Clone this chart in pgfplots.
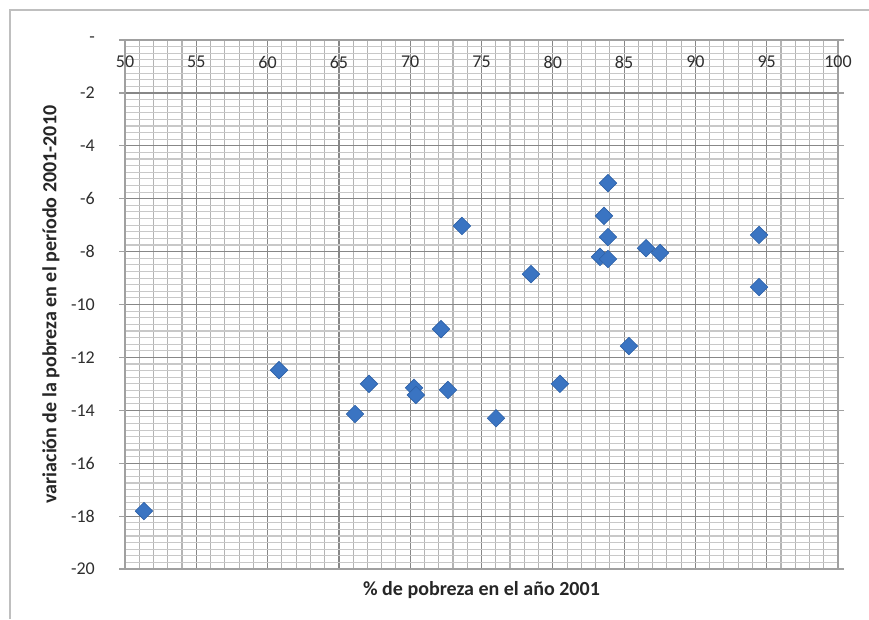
\documentclass[border=0pt]{standalone}
\usepackage{fontspec}
\setmainfont{Carlito}
\usepackage{pgfplots}
\pgfplotsset{compat=1.18}
\definecolor{ptblue}{HTML}{3A74C2}
\definecolor{ptedge}{HTML}{2E62A8}
\definecolor{majgrid}{HTML}{878787}
\definecolor{mingridv}{HTML}{B4B4B4}
\definecolor{mingridh}{HTML}{C8C8C8}
\definecolor{axcol}{HTML}{A0A0A0}
\begin{document}
\begin{tikzpicture}
\useasboundingbox (0pt,0pt) rectangle (869pt,-619pt);
\draw[color=black!25, line width=2pt] (10pt,-619pt) -- (10pt,-10pt) -- (869pt,-10pt);
\begin{axis}[
  at={(125pt,-569pt)}, anchor=south west,
  scale only axis, width=713pt, height=529pt,
  xmin=50, xmax=100, ymin=-20, ymax=0,
  xtick={50,55,...,100},
  xticklabels={50,55,60,65,70,75,80,85,90,95,100},
  ytick={-20,-18,...,0},
  yticklabels={-20,-18,-16,-14,-12,-10,-8,-6,-4,-2,-},
  minor x tick num=4,
  minor y tick num=7,
  grid=both,
  major grid style={color=majgrid, line width=1.2pt},
  minor x grid style={color=mingridv, line width=1.1pt},
  minor y grid style={color=mingridh, line width=1.1pt},
  axis line style={color=axcol, line width=1.4pt},
  xticklabel pos=upper,
  xtick style={draw=none},
  minor tick style={draw=none},
  ytick style={color=axcol, line width=1.2pt},
  major tick length=6pt,
  tick align=outside,
  x tick label style={anchor=center, yshift=-28pt, inner sep=0pt, font=\fontsize{18}{20}\selectfont, text=black!82},
  y tick label style={anchor=east, xshift=-24pt, inner sep=0pt, font=\fontsize{18}{20}\selectfont, text=black!82},
  xlabel={\% de pobreza en el año 2001},
  ylabel={variación de la pobreza en el período 2001-2010},
  xlabel style={at={(axis description cs:0.5,0)}, anchor=center, yshift=-21pt, font=\bfseries\fontsize{20}{22}\selectfont, text=black!85},
  ylabel style={at={(axis description cs:0,0.5)}, anchor=center, yshift=74pt, font=\bfseries\fontsize{20}{22}\selectfont, text=black!85},
  clip=false,
]
\addplot[only marks, mark=square*, mark size=6.2pt, mark options={rotate=45, fill=ptblue, draw=ptedge, line width=0.6pt}] coordinates {
(51.33,-17.81)
(60.80,-12.48)
(66.13,-14.14)
(67.11,-13.00)
(70.27,-13.15)
(70.40,-13.42)
(72.16,-10.93)
(72.65,-13.23)
(73.63,-7.03)
(76.02,-14.30)
(78.47,-8.85)
(80.50,-13.00)
(83.59,-6.65)
(83.87,-5.41)
(83.87,-7.45)
(83.31,-8.20)
(83.87,-8.28)
(85.34,-11.57)
(86.54,-7.87)
(87.52,-8.05)
(94.46,-7.37)
(94.46,-9.34)
};
\end{axis}
\end{tikzpicture}
\end{document}
